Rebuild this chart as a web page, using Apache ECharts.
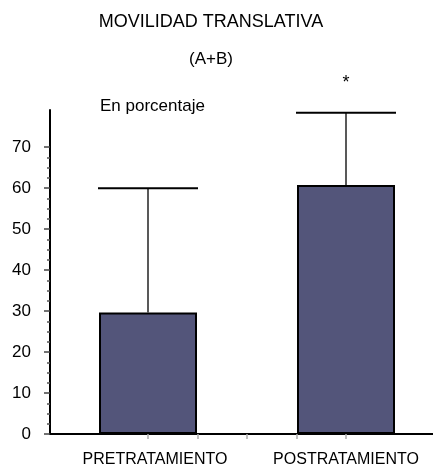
<!DOCTYPE html>
<html>
<head>
<meta charset="utf-8">
<script src="https://cdn.jsdelivr.net/npm/echarts@6/dist/echarts.min.js"></script>
<style>
  html, body { margin: 0; padding: 0; background: #fff; }
  #chart { width: 433px; height: 469px; }
</style>
</head>
<body>
<div id="chart"></div>
<script>
// datos
var categories = ['PRETRATAMIENTO', 'POSTRATAMIENTO'];
var means = [29.6, 60.7];
var upperErr = [59.9, 78.3];
var significance = ['', '*'];

var FONT = '"Liberation Sans", Arial, sans-serif';
var BAR_W = 98;

var errData = [];
for (var i = 0; i < categories.length; i++) {
	errData.push([i, means[i], upperErr[i]]);
}

// barra de error (solo superior) + marca de significación
function renderError(params, api) {
	var idx = api.value(0);
	var base = api.coord([idx, api.value(1)]);
	var top = api.coord([idx, api.value(2)]);
	var half = BAR_W / 2 + 1;
	var children = [
		{ type: 'line', shape: { x1: base[0], y1: base[1], x2: top[0], y2: top[1] },
		  style: { stroke: '#222', lineWidth: 1.5 } },
		{ type: 'line', shape: { x1: top[0] - half, y1: top[1], x2: top[0] + half, y2: top[1] },
		  style: { stroke: '#000', lineWidth: 2 } }
	];
	var sig = significance[idx];
	if (sig) {
		children.push({ type: 'text', x: top[0], y: top[1] - 30,
			style: { text: sig, fontSize: 18, fontFamily: FONT, fill: '#000', align: 'center', verticalAlign: 'middle' } });
	}
	return { type: 'group', children: children };
}

var chart = echarts.init(document.getElementById('chart'));
var option = {
	animation: false,
	backgroundColor: '#fff',
	grid: [
		{ left: 50, right: 0, top: 110, bottom: 35 },   // ejes
		{ left: 50, right: 0, top: 147, bottom: 35 },   // escala 0-70
		{ left: 148, right: 87, top: 110, bottom: 35 }  // barras
	],
	xAxis: [
		{
			type: 'value', gridIndex: 0,
			axisLine: { show: true, lineStyle: { color: '#000', width: 2 } },
			axisTick: { show: false }, axisLabel: { show: false }, splitLine: { show: false }
		},
		{ type: 'value', gridIndex: 1, show: false },
		{
			type: 'category', gridIndex: 2, data: categories, boundaryGap: false,
			axisLine: { show: false },
			axisTick: { show: false },
			axisLabel: { color: '#000', fontSize: 16, fontFamily: FONT, margin: 18, interval: 0,
				formatter: function (v) { return v === categories[0] ? '{pre|' + v + '}' : v; },
				rich: { pre: { fontSize: 16, fontFamily: FONT, color: '#000', padding: [0, 0, 0, 14] } } }
		},
		{
			type: 'value', gridIndex: 2, min: 0, max: 4, interval: 1, position: 'bottom',
			axisLine: { show: false },
			axisTick: { show: true, length: 5, lineStyle: { color: '#aaa', width: 1.5 } },
			axisLabel: { show: false },
			splitLine: { show: false }
		}
	],
	yAxis: [
		{
			type: 'value', gridIndex: 0, min: 0, max: 79,
			axisLine: { show: true, lineStyle: { color: '#000', width: 2 } },
			axisTick: { show: false },
			axisLabel: { show: false },
			splitLine: { show: false }
		},
		{
			type: 'value', gridIndex: 1, min: 0, max: 70, interval: 10,
			axisLine: { show: false },
			axisTick: { show: true, length: 6, lineStyle: { color: '#444', width: 1.5 } },
			minorTick: { show: true, splitNumber: 4, length: 3, lineStyle: { color: '#555', width: 1.5 } },
			axisLabel: { color: '#000', fontSize: 17, fontFamily: FONT, margin: 19 },
			splitLine: { show: false }
		},
		{ type: 'value', gridIndex: 2, min: 0, max: 79, show: false }
	],
	graphic: [
		{ type: 'text', x: 211, y: 22, style: { text: 'MOVILIDAD TRANSLATIVA', fontSize: 18, fontFamily: FONT, fill: '#000', align: 'center', verticalAlign: 'middle' } },
		{ type: 'text', x: 211, y: 59, style: { text: '(A+B)', fontSize: 17, fontFamily: FONT, fill: '#000', align: 'center', verticalAlign: 'middle' } },
		{ type: 'text', x: 100, y: 106, style: { text: 'En porcentaje', fontSize: 17, fontFamily: FONT, fill: '#000', align: 'left', verticalAlign: 'middle' } }
	],
	series: [
		{
			type: 'bar', xAxisIndex: 2, yAxisIndex: 2,
			data: means,
			barWidth: BAR_W,
			clip: false,
			itemStyle: { color: '#53557a', borderColor: '#000', borderWidth: 2 }
		},
		{
			type: 'custom', xAxisIndex: 2, yAxisIndex: 2,
			data: errData,
			renderItem: renderError,
			clip: false,
			z: 3
		}
	]
};
chart.setOption(option);
</script>
</body>
</html>
